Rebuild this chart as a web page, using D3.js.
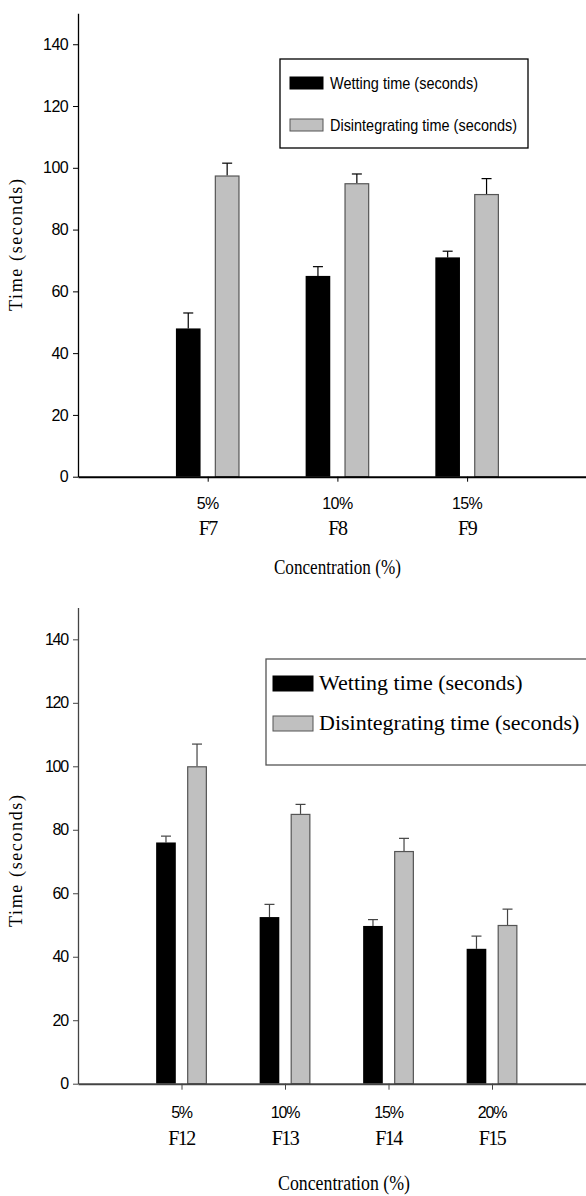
<!DOCTYPE html>
<html>
<head>
<meta charset="utf-8">
<script src="https://cdn.jsdelivr.net/npm/d3@7/dist/d3.min.js"></script>
<style>
  html, body { margin: 0; padding: 0; background: #fff; }
  svg { display: block; }
  .sans { font-family: "Liberation Sans", Arial, sans-serif; }
  .serif { font-family: "Liberation Serif", "Times New Roman", serif; }
</style>
</head>
<body>
<svg id="chart" width="586" height="1196"></svg>
<script>
// ---------- data ----------
const yTicks = [0, 20, 40, 60, 80, 100, 120, 140];
const seriesNames = ["Wetting time (seconds)", "Disintegrating time (seconds)"];

const topConcentrations = ["5%", "10%", "15%"];
const topFormulas = ["F7", "F8", "F9"];
const topWetting = [48, 65, 71];
const topWettingErr = [5, 3, 2];
const topDisintegrating = [97.5, 95, 91.5];
const topDisintegratingErr = [4, 3, 5];

const bottomConcentrations = ["5%", "10%", "15%", "20%"];
const bottomFormulas = ["F12", "F13", "F14", "F15"];
const bottomWetting = [76, 52.5, 49.7, 42.5];
const bottomWettingErr = [2, 4, 2, 4];
const bottomDisintegrating = [100, 85, 73.3, 50];
const bottomDisintegratingErr = [7, 3, 4, 5];

const svg = d3.select("#chart");

function drawPanel(cfg) {
  const g = svg.append("g");
  const n = cfg.concentrations.length;
  const x = d3.scaleLinear().domain([0, n + 1]).range([cfg.left, cfg.left + (n + 1) * cfg.unit]);
  const y = d3.scaleLinear().domain([0, 150]).range([cfg.zeroY, cfg.zeroY - 150 * cfg.pxPerUnit]);
  const unit = x(1) - x(0);
  const bw = unit * 0.19;
  const off = unit * 0.15;

  const rows = cfg.concentrations.map((c, i) => ({
    i, c, f: cfg.formulas[i],
    w: cfg.wet[i], we: cfg.wetErr[i],
    d: cfg.dis[i], de: cfg.disErr[i]
  }));

  // error bars (drawn first, bars on top)
  const errs = [];
  rows.forEach(r => {
    errs.push({ cx: x(r.i + 1) - off, v: r.w, e: r.we });
    errs.push({ cx: x(r.i + 1) + off, v: r.d, e: r.de });
  });
  const eg = g.append("g").attr("stroke", cfg.errColor).attr("stroke-width", 1.2);
  eg.selectAll("line.v").data(errs).join("line")
    .attr("x1", d => d.cx).attr("x2", d => d.cx)
    .attr("y1", d => y(d.v)).attr("y2", d => y(d.v + d.e));
  eg.selectAll("line.c").data(errs).join("line")
    .attr("x1", d => d.cx - 5).attr("x2", d => d.cx + 5)
    .attr("y1", d => y(d.v + d.e)).attr("y2", d => y(d.v + d.e));

  // bars
  g.selectAll("rect.wet").data(rows).join("rect")
    .attr("x", d => x(d.i + 1) - off - bw / 2)
    .attr("y", d => y(d.w))
    .attr("width", bw)
    .attr("height", d => y(0) - y(d.w))
    .attr("fill", "#000");
  g.selectAll("rect.dis").data(rows).join("rect")
    .attr("x", d => x(d.i + 1) + off - bw / 2 + 0.5)
    .attr("y", d => y(d.d) + 0.5)
    .attr("width", bw - 1)
    .attr("height", d => y(0) - y(d.d) - 0.5)
    .attr("fill", "#c0c0c0")
    .attr("stroke", "#555")
    .attr("stroke-width", 1.2);

  // y axis
  const ya = g.append("g")
    .attr("transform", `translate(${cfg.left},0)`)
    .call(d3.axisLeft(y).tickValues(yTicks).tickSize(5).tickSizeOuter(0).tickPadding(5));
  ya.select(".domain").attr("stroke", cfg.axisColor).attr("stroke-width", 1.3);
  ya.selectAll(".tick line").attr("stroke", cfg.axisColor);
  ya.selectAll(".tick text")
    .attr("class", "sans")
    .attr("font-size", 16)
    .attr("fill", "#000")
    .attr("letter-spacing", cfg.tickLetterSpacing);

  // x axis
  const xa = g.append("g")
    .attr("transform", `translate(0,${y(0)})`)
    .call(d3.axisBottom(x).tickValues(d3.range(1, n + 1)).tickSize(cfg.xTick).tickSizeOuter(0).tickFormat(""));
  xa.select(".domain").attr("stroke", cfg.axisColor).attr("stroke-width", 2);
  xa.selectAll(".tick line").attr("stroke", cfg.axisColor);

  g.selectAll("text.conc").data(rows).join("text")
    .attr("class", "sans")
    .attr("x", d => x(d.i + 1))
    .attr("y", y(0) + cfg.concOffset)
    .attr("text-anchor", "middle")
    .attr("font-size", 16)
    .attr("letter-spacing", cfg.tickLetterSpacing)
    .text(d => d.c);
  g.selectAll("text.form").data(rows).join("text")
    .attr("class", "serif")
    .attr("x", d => x(d.i + 1))
    .attr("y", y(0) + cfg.formOffset)
    .attr("text-anchor", "middle")
    .attr("font-size", 20)
    .attr("letter-spacing", cfg.formLetterSpacing)
    .text(d => d.f);

  // axis titles
  g.append("text")
    .attr("class", "serif")
    .attr("transform", `translate(${cfg.yTitleX},${cfg.yTitleY}) rotate(-90)`)
    .attr("text-anchor", "middle")
    .attr("font-size", 18)
    .attr("textLength", 132)
    .text("Time (seconds)");
  g.append("text")
    .attr("class", "serif")
    .attr("x", cfg.xTitleX)
    .attr("y", cfg.xTitleY)
    .attr("text-anchor", "middle")
    .attr("font-size", 20)
    .attr("textLength", cfg.xTitleLen)
    .attr("lengthAdjust", "spacingAndGlyphs")
    .text("Concentration (%)");

  // legend
  const L = cfg.legend;
  const lg = g.append("g");
  lg.append("rect")
    .attr("x", L.x).attr("y", L.y).attr("width", L.w).attr("height", L.h)
    .attr("fill", "#fff").attr("stroke", L.stroke).attr("stroke-width", 1.3);
  const fills = ["#000", "#c0c0c0"];
  seriesNames.forEach((name, k) => {
    lg.append("rect")
      .attr("x", L.sx).attr("y", L.sy[k]).attr("width", L.sw).attr("height", L.sh)
      .attr("fill", fills[k]).attr("stroke", k === 0 ? "#000" : "#555").attr("stroke-width", 1);
    const t = lg.append("text")
      .attr("class", L.font)
      .attr("x", L.tx).attr("y", L.ty[k])
      .attr("font-size", L.fs)
      .text(name);
    if (L.tl) t.attr("textLength", L.tl[k]).attr("lengthAdjust", "spacingAndGlyphs");
  });
}

drawPanel({
  concentrations: topConcentrations, formulas: topFormulas,
  wet: topWetting, wetErr: topWettingErr, dis: topDisintegrating, disErr: topDisintegratingErr,
  left: 78, unit: 129.7, zeroY: 476.7, pxPerUnit: 3.089,
  axisColor: "#000", errColor: "#000", xTick: 5,
  tickLetterSpacing: -0.6, formLetterSpacing: -1.5,
  concOffset: 32, formOffset: 58,
  yTitleX: 22, yTitleY: 245,
  xTitleX: 337.4, xTitleY: 574, xTitleLen: 127,
  legend: { x: 280, y: 59, w: 248, h: 89, stroke: "#000",
            sx: 290, sy: [77, 119], sw: 33, sh: 12,
            tx: 330, ty: [88.5, 130.5], fs: 16.5, font: "sans", tl: [148, 187] }
});

drawPanel({
  concentrations: bottomConcentrations, formulas: bottomFormulas,
  wet: bottomWetting, wetErr: bottomWettingErr, dis: bottomDisintegrating, disErr: bottomDisintegratingErr,
  left: 78, unit: 103.5, zeroY: 1083.7, pxPerUnit: 3.174,
  axisColor: "#444", errColor: "#444", xTick: 6,
  tickLetterSpacing: -1.2, formLetterSpacing: -1.5,
  concOffset: 34, formOffset: 61,
  yTitleX: 22, yTitleY: 861,
  xTitleX: 344, xTitleY: 1190, xTitleLen: 132,
  legend: { x: 266, y: 659, w: 340, h: 106, stroke: "#555",
            sx: 273, sy: [676, 716], sw: 40, sh: 15,
            tx: 319, ty: [690, 729.5], fs: 22, font: "serif", tl: null }
});
</script>
</body>
</html>
